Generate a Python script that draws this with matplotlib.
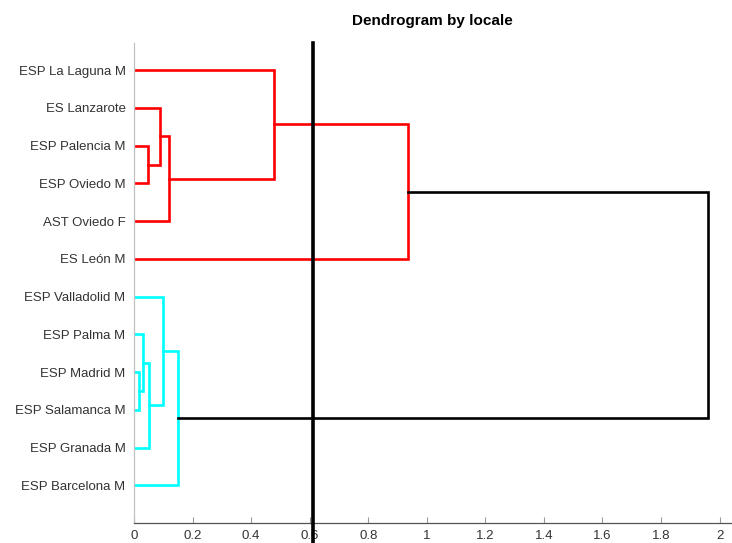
import numpy as np
import matplotlib
matplotlib.use("Agg")
import matplotlib.pyplot as plt

# leaves from bottom (position 1) to top (position 12)
leaves = ["ESP Barcelona M", "ESP Granada M", "ESP Salamanca M", "ESP Madrid M",
          "ESP Palma M", "ESP Valladolid M", "ES León M", "AST Oviedo F",
          "ESP Oviedo M", "ESP Palencia M", "ES Lanzarote", "ESP La Laguna M"]

# linkage: node ids 1..12 are leaves, new nodes numbered from 13
merge_a = [4, 5, 2, 6, 1, 9, 11, 8, 12, 7, 17]
merge_b = [3, 13, 14, 15, 16, 10, 18, 19, 20, 21, 22]
merge_h = [0.017, 0.030, 0.051, 0.100, 0.151, 0.048, 0.089, 0.120, 0.478, 0.935, 1.959]

color_threshold = 1.37
cut_value = 0.61

plt.rcParams['font.family'] = ['Liberation Sans', 'DejaVu Sans']

fig = plt.figure(figsize=(7.32, 5.43), dpi=100)
ax = fig.add_axes([0.183, 0.0368, 0.816, 0.884])

n = len(leaves)
pos = {i + 1: float(i + 1) for i in range(n)}
hgt = {i + 1: 0.0 for i in range(n)}
members = {i + 1: {i + 1} for i in range(n)}

# groups below the colour threshold get their own colour
group_colors = {frozenset(range(1, 7)): '#00ffff', frozenset(range(7, 13)): '#ff0000'}

def node_color(leafset, h):
    if h >= color_threshold:
        return 'black'
    for g, c in group_colors.items():
        if leafset <= g:
            return c
    return 'black'

for k, (a, b, h) in enumerate(zip(merge_a, merge_b, merge_h)):
    nid = n + 1 + k
    leafset = members[a] | members[b]
    c = node_color(leafset, h)
    ya, yb = pos[a], pos[b]
    ax.plot([hgt[a], h, h, hgt[b]], [ya, ya, yb, yb], color=c, lw=1.9,
            solid_joinstyle='miter', zorder=2)
    pos[nid] = (ya + yb) / 2
    hgt[nid] = h
    members[nid] = leafset

ax.set_xlim(0, 2.04)
ax.set_ylim(0, 12.72)

# cut line runs through the tick labels down to the figure edge
ax.plot([cut_value, cut_value], [-0.6, 12.72], color='black', lw=2.6,
        zorder=5, clip_on=False)

ax.set_xticks(np.arange(0, 2.01, 0.2))
ax.set_xticklabels(['0', '0.2', '0.4', '0.6', '0.8', '1', '1.2', '1.4', '1.6', '1.8', '2'])
ax.set_yticks(range(1, n + 1))
ax.set_yticklabels(leaves)

for s in ['top', 'right']:
    ax.spines[s].set_visible(False)
ax.spines['left'].set_color('#c0c0c0')
ax.spines['left'].set_linewidth(0.9)
ax.spines['bottom'].set_color('#555555')
ax.spines['bottom'].set_linewidth(0.9)

ax.tick_params(axis='x', direction='in', length=4, color='#999999',
               labelsize=9.5, labelcolor='#333333', pad=5)
ax.tick_params(axis='y', length=0, labelsize=9.5, labelcolor='#333333', pad=6)

ax.set_title('Dendrogram by locale', fontsize=11, fontweight='bold', pad=13)

fig.savefig('out.png', dpi=100)
